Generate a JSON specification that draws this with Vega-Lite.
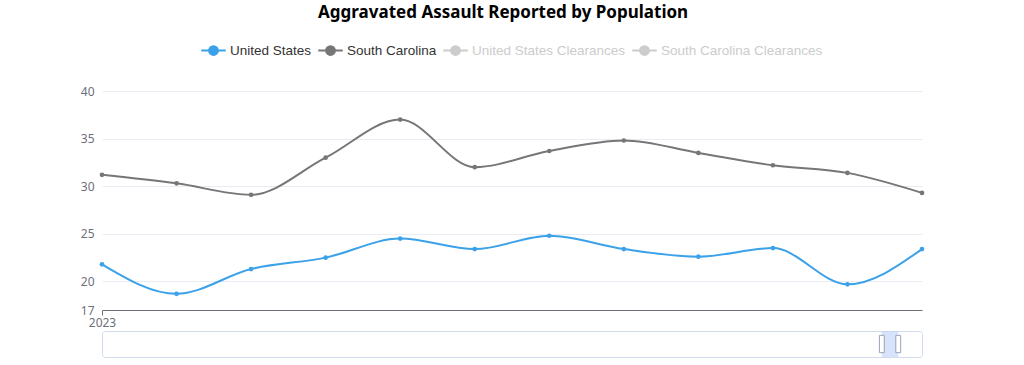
{
  "$schema": "https://vega.github.io/schema/vega-lite/v6.json",
  "padding": {"left": 80, "top": 4, "right": 100, "bottom": 4},
  "background": "white",
  "title": {"text": "Aggravated Assault Reported by Population", "anchor": "middle", "fontSize": 17, "font": "Noto Sans", "fontWeight": "bold", "color": "#000", "offset": 15},
  "config": {"view": {"stroke": null}, "font": "Liberation Sans"},
  "spacing": 2,
  "datasets": {
    "main": [
      {"month": "2023-01", "series": "United States", "value": 21.8},
      {"month": "2023-02", "series": "United States", "value": 18.7},
      {"month": "2023-03", "series": "United States", "value": 21.3},
      {"month": "2023-04", "series": "United States", "value": 22.5},
      {"month": "2023-05", "series": "United States", "value": 24.5},
      {"month": "2023-06", "series": "United States", "value": 23.4},
      {"month": "2023-07", "series": "United States", "value": 24.8},
      {"month": "2023-08", "series": "United States", "value": 23.4},
      {"month": "2023-09", "series": "United States", "value": 22.6},
      {"month": "2023-10", "series": "United States", "value": 23.5},
      {"month": "2023-11", "series": "United States", "value": 19.7},
      {"month": "2023-12", "series": "United States", "value": 23.4},
      {"month": "2023-01", "series": "South Carolina", "value": 31.2},
      {"month": "2023-02", "series": "South Carolina", "value": 30.3},
      {"month": "2023-03", "series": "South Carolina", "value": 29.1},
      {"month": "2023-04", "series": "South Carolina", "value": 33.0},
      {"month": "2023-05", "series": "South Carolina", "value": 37.0},
      {"month": "2023-06", "series": "South Carolina", "value": 32.0},
      {"month": "2023-07", "series": "South Carolina", "value": 33.7},
      {"month": "2023-08", "series": "South Carolina", "value": 34.8},
      {"month": "2023-09", "series": "South Carolina", "value": 33.5},
      {"month": "2023-10", "series": "South Carolina", "value": 32.2},
      {"month": "2023-11", "series": "South Carolina", "value": 31.4},
      {"month": "2023-12", "series": "South Carolina", "value": 29.3}
    ],
    "zoom": [{"start": 0.951, "end": 0.971}]
  },
  "vconcat": [
    {
      "width": 820,
      "height": 219,
      "data": {"name": "main"},
      "encoding": {
        "x": {"field": "month", "type": "ordinal", "scale": {"type": "point", "padding": 0},
          "axis": {"title": null, "values": ["2023-01"], "labelExpr": "'2023'", "labelAngle": 0, "domainColor": "#6e7079", "tickColor": "#6e7079", "tickSize": 5, "labelColor": "#6e7079", "labelFontSize": 12, "labelFont": "Noto Sans", "labelPadding": 2, "grid": false}},
        "y": {"field": "value", "type": "quantitative", "scale": {"domain": [17, 40], "nice": false, "zero": false},
          "axis": {"title": null, "values": [17, 20, 25, 30, 35, 40], "domain": false, "ticks": false, "labelColor": "#6e7079", "labelFontSize": 12, "labelFont": "Noto Sans", "labelPadding": 8, "gridColor": "#e9ecf3", "gridWidth": 1}},
        "color": {"field": "series", "type": "nominal",
          "scale": {"domain": ["United States", "South Carolina", "United States Clearances", "South Carolina Clearances"], "range": ["#3ba1e8", "#767676", "#cccccc", "#cccccc"]},
          "legend": {"title": null, "orient": "none", "direction": "horizontal", "legendX": 98, "legendY": -54,
            "symbolType": "M-1,0L1,0M-0.36,0A0.36,0.36,0,1,1,0.36,0A0.36,0.36,0,1,1,-0.36,0Z",
            "symbolSize": 600, "symbolStrokeWidth": 2, "labelFontSize": 13.5, "labelFont": "Liberation Sans", "labelOffset": 3, "columnPadding": 2, "labelLimit": 400,
            "encode": {
              "symbols": {"update": {"fill": {"scale": "color", "field": "value"}, "stroke": {"scale": "color", "field": "value"}, "opacity": {"value": 1}}},
              "labels": {"update": {"fill": {"signal": "indexof(datum.value, 'Clearances') >= 0 ? '#cccccc' : '#333333'"}}}
            }}}
      },
      "layer": [
        {"mark": {"type": "line", "interpolate": "monotone", "strokeWidth": 2}},
        {"mark": {"type": "point", "filled": true, "size": 22, "opacity": 1}}
      ]
    },
    {
      "width": 820,
      "height": 26,
      "data": {"name": "zoom"},
      "view": {"stroke": "#d2dbee", "cornerRadius": 3},
      "layer": [
        {"mark": {"type": "rect", "color": "#bcd0f7", "opacity": 0.6},
          "encoding": {
            "x": {"field": "start", "type": "quantitative", "scale": {"domain": [0, 1], "nice": false}, "axis": null},
            "x2": {"field": "end"}
          }},
        {"mark": {"type": "point", "shape": "M-0.28,-1L0.28,-1L0.28,1L-0.28,1Z", "size": 300, "filled": true, "fill": "white", "stroke": "#9aa4b8", "strokeWidth": 1, "opacity": 1},
          "encoding": {"x": {"field": "start", "type": "quantitative"}}},
        {"mark": {"type": "point", "shape": "M-0.28,-1L0.28,-1L0.28,1L-0.28,1Z", "size": 300, "filled": true, "fill": "white", "stroke": "#9aa4b8", "strokeWidth": 1, "opacity": 1},
          "encoding": {"x": {"field": "end", "type": "quantitative"}}}
      ]
    }
  ]
}
